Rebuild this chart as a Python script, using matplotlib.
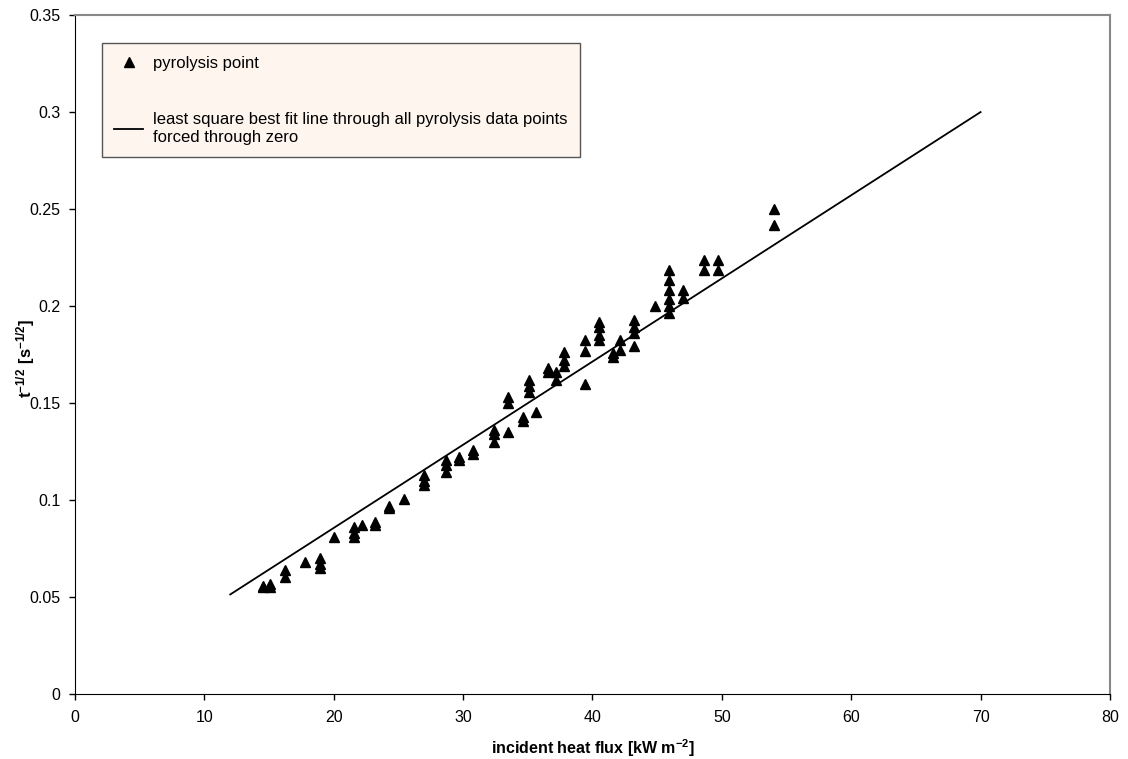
import matplotlib.pyplot as plt
from matplotlib.lines import Line2D

plt.rcParams['font.family'] = ['Liberation Sans', 'DejaVu Sans']
plt.rcParams['mathtext.fontset'] = 'custom'
plt.rcParams['mathtext.rm'] = 'Liberation Sans'
plt.rcParams['mathtext.bf'] = 'Liberation Sans:bold'

# Pyrolysis data points (incident heat flux, t^-1/2)
flux = [14.55, 14.55, 15.1, 15.1, 16.2, 16.2, 17.8, 18.9, 18.9, 18.9,
        20.0, 21.6, 21.6, 21.6, 22.2, 23.2, 23.2, 24.3, 24.3, 25.4,
        27.0, 27.0, 27.0, 28.65, 28.65, 28.65, 29.7, 29.7, 30.8, 30.8,
        32.4, 32.4, 32.4, 33.5, 33.5, 33.5, 34.6, 34.6, 35.1, 35.1, 35.1,
        35.6, 36.6, 36.6, 37.2, 37.2, 37.8, 37.8, 37.8, 39.4, 39.4, 39.4,
        40.5, 40.5, 40.5, 40.5, 41.6, 41.6, 42.1, 42.1,
        43.2, 43.2, 43.2, 43.2, 44.8,
        45.9, 45.9, 45.9, 45.9, 45.9, 45.9, 47.0, 47.0,
        48.6, 48.6, 49.7, 49.7, 54.0, 54.0]
t_inv = [0.0555, 0.056, 0.057, 0.0555, 0.064, 0.0605, 0.068, 0.070, 0.067, 0.065,
         0.081, 0.086, 0.083, 0.081, 0.087, 0.089, 0.087, 0.097, 0.096, 0.1005,
         0.113, 0.110, 0.108, 0.1206, 0.118, 0.1147, 0.122, 0.1205, 0.126, 0.124,
         0.136, 0.134, 0.130, 0.153, 0.150, 0.135, 0.143, 0.141, 0.162, 0.159, 0.156,
         0.1457, 0.168, 0.166, 0.166, 0.162, 0.1766, 0.172, 0.169, 0.1826, 0.177, 0.160,
         0.192, 0.189, 0.185, 0.1826, 0.176, 0.174, 0.1826, 0.1774,
         0.193, 0.189, 0.186, 0.1796, 0.200,
         0.2184, 0.2133, 0.2085, 0.2037, 0.200, 0.1964, 0.2084, 0.204,
         0.2238, 0.2187, 0.2238, 0.2187, 0.250, 0.242]

# Least squares fit forced through zero
fit_x = [12, 70]
slope = 0.3 / 70

fig = plt.figure(figsize=(11.28, 7.59), dpi=100)
ax = fig.add_axes([0.0665, 0.0853, 0.9175, 0.8949])

ax.plot(flux, t_inv, linestyle='none', marker='^', ms=7.5, color='black')
ax.plot(fit_x, [slope * v for v in fit_x], color='black', lw=1.3)

ax.set_xlim(0, 80)
ax.set_ylim(0, 0.35)
ax.set_xticks(range(0, 81, 10))
ax.set_yticks([0, 0.05, 0.1, 0.15, 0.2, 0.25, 0.3, 0.35])
ax.set_yticklabels(['0', '0.05', '0.1', '0.15', '0.2', '0.25', '0.3', '0.35'])
ax.tick_params(labelsize=11.5, length=4, width=1, direction='out')
ax.tick_params(axis='y', pad=6.5)
ax.tick_params(axis='x', pad=7)

for side in ['left', 'bottom']:
    ax.spines[side].set_color('black')
for side in ['top', 'right']:
    ax.spines[side].set_color('#888888')
    ax.spines[side].set_linewidth(1.5)

ax.set_xlabel(r'incident heat flux [kW m$^{\mathbf{-2}}$]', fontsize=11.5,
              fontweight='bold', va='center')
ax.xaxis.set_label_coords(0.5, -0.079)
ax.set_ylabel(r'$\mathbf{t^{-1/2}\ [s^{-1/2}]}$', fontsize=12, va='center')
ax.yaxis.set_label_coords(-0.048, 0.495)

handles = [Line2D([], [], linestyle='none', marker='^', ms=7, color='black'),
           Line2D([], [], color='black', lw=1.3)]
labels = ['pyrolysis point',
          'least square best fit line through all pyrolysis data points\nforced through zero']
leg = ax.legend(handles, labels, loc='upper left', bbox_to_anchor=(0.0258, 0.9588),
                fontsize=12, frameon=True, fancybox=False, framealpha=1,
                facecolor='#fdf5ee', edgecolor='#555555', labelspacing=2.5,
                handlelength=1.75, handletextpad=0.55, borderpad=0.75,
                borderaxespad=0)
leg.get_frame().set_linewidth(1.0)

fig.savefig('out.png', dpi=100)
